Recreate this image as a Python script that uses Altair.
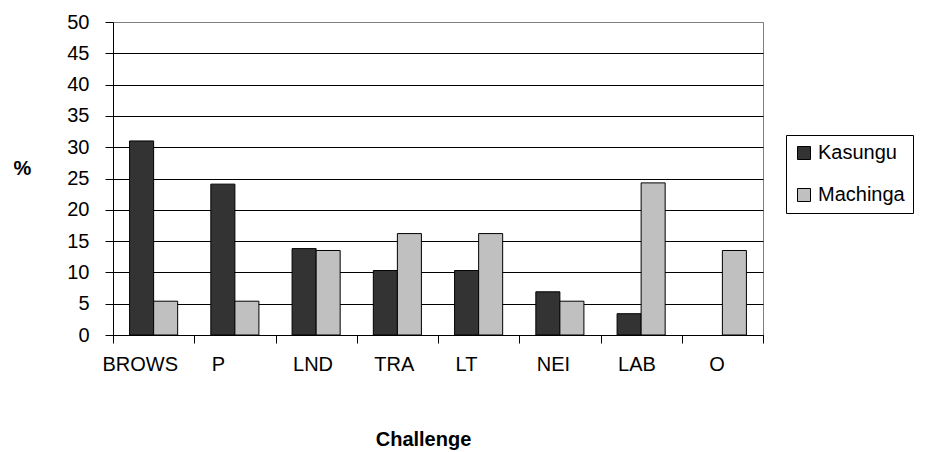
import altair as alt
import pandas as pd

categories = ["BROWS", "P", "LND", "TRA", "LT", "NEI", "LAB", "O"]
kasungu = [31.0, 24.1, 13.8, 10.3, 10.3, 6.9, 3.4, 0.0]
machinga = [5.4, 5.4, 13.5, 16.2, 16.2, 5.4, 24.3, 13.5]
series = ["Kasungu", "Machinga"]
colors = ["#333333", "#c0c0c0"]
y_ticks = list(range(0, 51, 5))

rows = []
for c, k, m in zip(categories, kasungu, machinga):
    rows.append({"Challenge": c, "District": series[0], "Percent": k})
    rows.append({"Challenge": c, "District": series[1], "Percent": m})
df = pd.DataFrame(rows)

FONT = "Liberation Sans"

chart = alt.Chart(df).mark_bar(stroke="black", strokeWidth=1).encode(
    x=alt.X(
        "Challenge:N",
        sort=categories,
        scale=alt.Scale(paddingInner=0, paddingOuter=0),
        axis=alt.Axis(
            title="Challenge",
            labelAngle=0,
            labelAlign="left",
            labelOffset={
                "condition": [
                    {"test": "datum.value == 'BROWS'", "value": -51.6},
                    {"test": "datum.value == 'O'", "value": -13.6},
                ],
                "value": -23.6,
            },
            labelPadding=11,
            labelFontSize=20,
            labelFont=FONT,
            labelColor="black",
            tickBand="extent",
            tickSize=8,
            tickColor="black",
            domainColor="black",
            grid=False,
            titleX=310,
            titleY=110,
            titleBaseline="alphabetic",
            titleAlign="center",
            titleFontSize=20,
            titleFont=FONT,
            titleFontWeight="bold",
            titleColor="black",
        ),
    ),
    xOffset=alt.XOffset(
        "District:N", sort=series, scale=alt.Scale(paddingInner=0, paddingOuter=0.69)
    ),
    y=alt.Y(
        "Percent:Q",
        scale=alt.Scale(domain=[0, 50], nice=False),
        axis=alt.Axis(
            values=y_ticks,
            title="%",
            titleAngle=0,
            titleX=-91,
            titleY=146,
            titleAlign="center",
            titleBaseline="middle",
            titleFontSize=20,
            titleFont=FONT,
            titleFontWeight="bold",
            titleColor="black",
            labelFontSize=20,
            labelFont=FONT,
            labelColor="black",
            labelPadding=16,
            tickSize=8,
            tickColor="black",
            domainColor="black",
            grid=True,
            gridColor={
                "condition": {"test": "datum.value == 50", "value": "#808080"},
                "value": "black",
            },
            gridWidth=1,
        ),
    ),
    color=alt.Color(
        "District:N",
        sort=series,
        scale=alt.Scale(domain=series, range=colors),
        legend=alt.Legend(
            title=None,
            orient="none",
            legendX=673,
            legendY=113,
            symbolType="square",
            symbolSize=169,
            symbolStrokeColor="black",
            symbolStrokeWidth=1,
            labelFontSize=20,
            labelFont=FONT,
            labelColor="black",
            labelOffset=4,
            rowPadding=22,
            padding=8,
            strokeColor="black",
            fillColor="white",
            cornerRadius=0,
        ),
    ),
    strokeOpacity=alt.condition(alt.datum.Percent == 0, alt.value(0), alt.value(1)),
).properties(
    width=650,
    height=313,
    autosize=alt.AutoSizeParams(type="none"),
    padding={"left": 105, "top": 14, "right": 157, "bottom": 115},
).configure_view(
    stroke="#808080", strokeWidth=1
)

chart.save("out.html", embed_options={"renderer": "svg", "actions": False})
